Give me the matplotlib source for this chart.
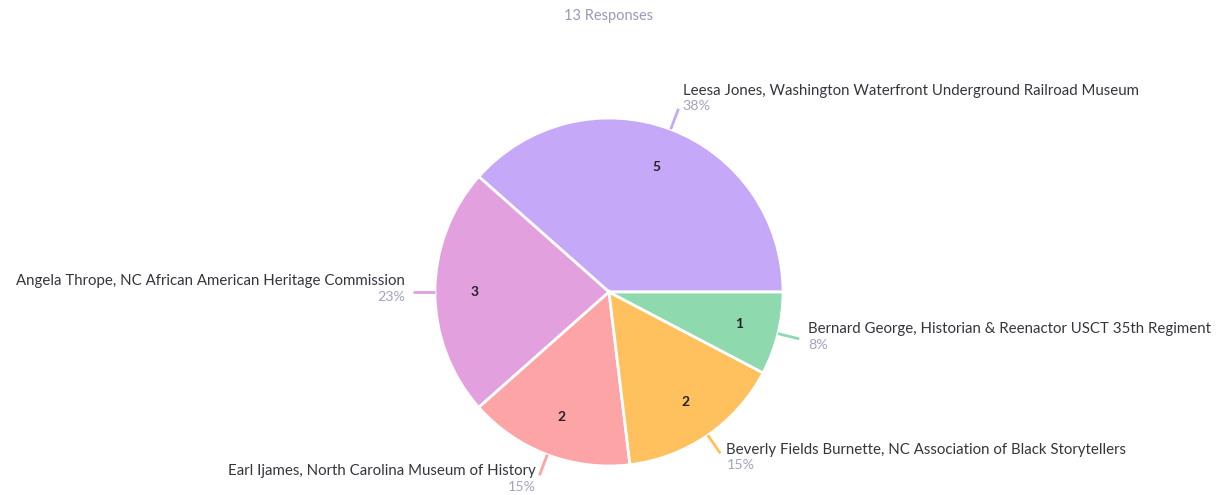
import numpy as np
import matplotlib
matplotlib.use("Agg")
import matplotlib.pyplot as plt

plt.rcParams['font.family'] = ['Lato', 'DejaVu Sans']

names = [
    "Leesa Jones, Washington Waterfront Underground Railroad Museum",
    "Angela Thrope, NC African American Heritage Commission",
    "Earl Ijames, North Carolina Museum of History",
    "Beverly Fields Burnette, NC Association of Black Storytellers",
    "Bernard George, Historian & Reenactor USCT 35th Regiment",
]
counts = [5, 3, 2, 2, 1]
colors = ["#c5a8f7", "#e2a0de", "#fda4a6", "#fec15e", "#8ed9ae"]
title = "13 Responses"

W, H = 1225, 495
fig = plt.figure(figsize=(W / 100, H / 100), dpi=100)
ax = fig.add_axes([0, 0, 1, 1])

cx, cy, r = 609, H - 292, 174
total = sum(counts)
wedges, _, autotexts = ax.pie(
    counts, colors=colors, startangle=0, counterclock=True,
    center=(cx, cy), radius=r,
    autopct=lambda p: f"{round(p * total / 100)}", pctdistance=0.77,
    wedgeprops=dict(edgecolor="white", linewidth=2),
    textprops=dict(fontsize=10, color="#222222"),
)
for t in autotexts:
    t.set_fontweight("bold")

# label text vertical offsets (px) relative to the leader-line end
name_dy = [-18, -11, -4, -3, -10]
pct_dy = [-3, 5, 12, 12, 6]
x_pad = [4, 8, 4, 6, 9]
for w, name, n, c, ndy, pdy, xp in zip(wedges, names, counts, colors, name_dy, pct_dy, x_pad):
    ang = np.deg2rad((w.theta1 + w.theta2) / 2)
    x0, y0 = cx + r * np.cos(ang), cy + r * np.sin(ang)
    x1, y1 = cx + (r + 22) * np.cos(ang), cy + (r + 22) * np.sin(ang)
    ax.plot([x0, x1], [y0, y1], color=c, lw=2, solid_capstyle="butt")
    right = np.cos(ang) >= 0
    tx = x1 + xp if right else x1 - xp
    ha = "left" if right else "right"
    ax.text(tx, y1 - ndy, name, ha=ha, va="center", fontsize=10.8, color="#35353f")
    ax.text(tx, y1 - pdy, f"{100 * n / total:.0f}%", ha=ha, va="center",
            fontsize=10.3, color="#a3a3c2")

ax.text(cx, H - 16, title, ha="center", va="center", fontsize=10.5, color="#9a9ab8")

ax.set_xlim(0, W)
ax.set_ylim(0, H)
ax.set_aspect("equal")
ax.axis("off")
fig.savefig("out.png", dpi=100, facecolor="white")
